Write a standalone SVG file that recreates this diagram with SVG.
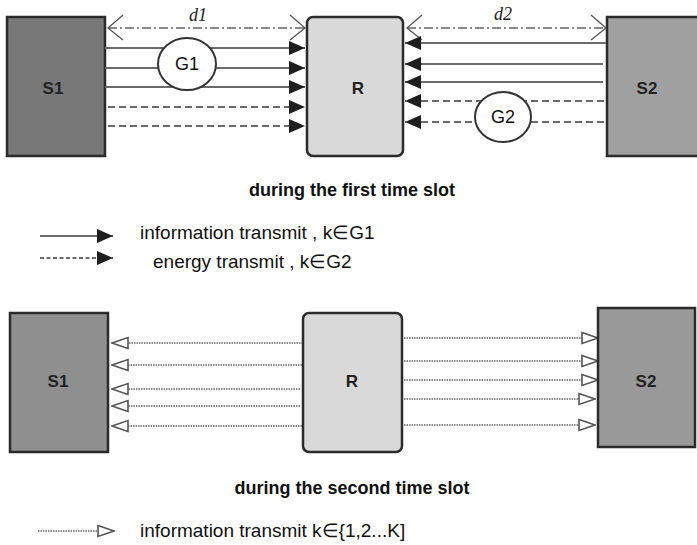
<svg xmlns="http://www.w3.org/2000/svg" width="697" height="545" viewBox="0 0 697 545">
<style>
.box{stroke:#2b2b2b;stroke-width:2.5}
.lbl{font-family:"Liberation Sans",Arial,sans-serif;font-weight:bold;font-size:17px;fill:#222;text-anchor:middle}
.txt{font-family:"Liberation Sans",Arial,sans-serif;font-size:19px;fill:#111}
.cap{font-family:"Liberation Sans",Arial,sans-serif;font-weight:bold;font-size:18px;fill:#111;text-anchor:middle}
.dim{font-family:"Liberation Serif","Times New Roman",serif;font-style:italic;font-size:18px;fill:#222;text-anchor:middle}
.sol{stroke:#6a6a6a;stroke-width:2;fill:none}
.dsh{stroke:#6a6a6a;stroke-width:2;fill:none;stroke-dasharray:7,4}
.dot{stroke:#8a8a8a;stroke-width:2;fill:none;stroke-dasharray:1.5,1}
.dd{stroke:#8a8a8a;stroke-width:2;fill:none;stroke-dasharray:9,3,2,3}
.chev{stroke:#555;stroke-width:1.3;fill:none}
.circ{fill:#fff;stroke:#333;stroke-width:2}
</style>
<defs>
<marker id="fa" viewBox="0 0 16 14" refX="16" refY="7" markerWidth="16" markerHeight="14" markerUnits="userSpaceOnUse" orient="auto"><path d="M0,0 L16,7 L0,14 Z" fill="#1e1e1e"/></marker>
<marker id="ha" viewBox="0 0 18 14" refX="17" refY="7" markerWidth="18" markerHeight="14" markerUnits="userSpaceOnUse" orient="auto"><path d="M1,1.5 L17,7 L1,12.5 Z" fill="#fff" stroke="#555" stroke-width="1.6"/></marker>
</defs>

<g id="top-S1"><rect class="box" x="7" y="17" width="98" height="139" fill="#787878"/><text class="lbl" x="53" y="94">S1</text></g>
<g id="top-R"><rect class="box" x="307" y="17" width="96" height="139" rx="6" fill="#d9d9d9"/><text class="lbl" x="358" y="94">R</text></g>
<g id="top-S2"><rect class="box" x="607" y="17" width="96" height="139" fill="#a0a0a0"/><text class="lbl" x="647" y="94">S2</text></g>

<g id="connectors">
<line class="dd" x1="108" y1="28" x2="305" y2="28"/>
<polyline class="chev" points="123,15 108,28 123,40"/>
<polyline class="chev" points="290,15 305,28 290,40"/>
<line class="dd" x1="407" y1="28" x2="606" y2="28"/>
<polyline class="chev" points="422,15 407,28 422,40"/>
<polyline class="chev" points="591,15 606,28 591,40"/>
<line class="sol" x1="105" y1="48" x2="305" y2="48" marker-end="url(#fa)"/>
<line class="sol" x1="105" y1="68" x2="305" y2="68" marker-end="url(#fa)"/>
<line class="sol" x1="105" y1="87" x2="305" y2="87" marker-end="url(#fa)"/>
<line class="dsh" x1="108" y1="107" x2="305" y2="107" marker-end="url(#fa)"/>
<line class="dsh" x1="108" y1="126" x2="305" y2="126" marker-end="url(#fa)"/>
<line class="sol" x1="606" y1="43" x2="405" y2="43" marker-end="url(#fa)"/>
<line class="sol" x1="603" y1="64" x2="405" y2="64" marker-end="url(#fa)"/>
<line class="sol" x1="603" y1="82" x2="405" y2="82" marker-end="url(#fa)"/>
<line class="dsh" x1="604" y1="101" x2="405" y2="101" marker-end="url(#fa)"/>
<line class="dsh" x1="604" y1="122" x2="405" y2="122" marker-end="url(#fa)"/>
<line class="dot" x1="303" y1="343" x2="112" y2="343" marker-end="url(#ha)"/>
<line class="dot" x1="302" y1="365" x2="112" y2="365" marker-end="url(#ha)"/>
<line class="dot" x1="300" y1="389" x2="112" y2="389" marker-end="url(#ha)"/>
<line class="dot" x1="300" y1="406" x2="112" y2="406" marker-end="url(#ha)"/>
<line class="dot" x1="302" y1="426" x2="112" y2="426" marker-end="url(#ha)"/>
<line class="dot" x1="404" y1="338" x2="598" y2="338" marker-end="url(#ha)"/>
<line class="dot" x1="404" y1="361" x2="598" y2="361" marker-end="url(#ha)"/>
<line class="dot" x1="404" y1="380" x2="598" y2="380" marker-end="url(#ha)"/>
<line class="dot" x1="404" y1="399" x2="595" y2="399" marker-end="url(#ha)"/>
<line class="dot" x1="404" y1="425" x2="595" y2="425" marker-end="url(#ha)"/>
<line class="sol" x1="40" y1="236" x2="113" y2="236" marker-end="url(#fa)"/>
<line class="dsh" x1="40" y1="258" x2="113" y2="258" marker-end="url(#fa)" style="stroke-dasharray:4,2.5"/>
<line class="dot" x1="38" y1="531" x2="114" y2="531" marker-end="url(#ha)"/>
</g>

<g id="G1"><ellipse class="circ" cx="187" cy="64" rx="29" ry="26"/><text class="txt" x="187" y="70" text-anchor="middle" style="font-size:18px">G1</text></g>
<g id="G2"><ellipse class="circ" cx="503" cy="117" rx="28" ry="25"/><text class="txt" x="503" y="123" text-anchor="middle" style="font-size:18px">G2</text></g>

<text class="dim" x="198" y="21">d1</text>
<text class="dim" x="503" y="20">d2</text>

<text class="cap" x="352" y="196">during the first time slot</text>
<text class="txt" x="140" y="239">information transmit , k∈G1</text>
<text class="txt" x="153" y="268">energy transmit , k∈G2</text>

<g id="bot-S1"><rect class="box" x="10" y="313" width="98" height="139" fill="#8f8f8f"/><text class="lbl" x="58" y="387">S1</text></g>
<g id="bot-R"><rect class="box" x="303" y="313" width="99" height="139" rx="6" fill="#d9d9d9"/><text class="lbl" x="352" y="387">R</text></g>
<g id="bot-S2"><rect class="box" x="598" y="308" width="97" height="139" fill="#999999"/><text class="lbl" x="646" y="387">S2</text></g>

<text class="cap" x="352" y="494">during the second time slot</text>
<text class="txt" x="140" y="537">information transmit k∈{1,2...K]</text>
</svg>
